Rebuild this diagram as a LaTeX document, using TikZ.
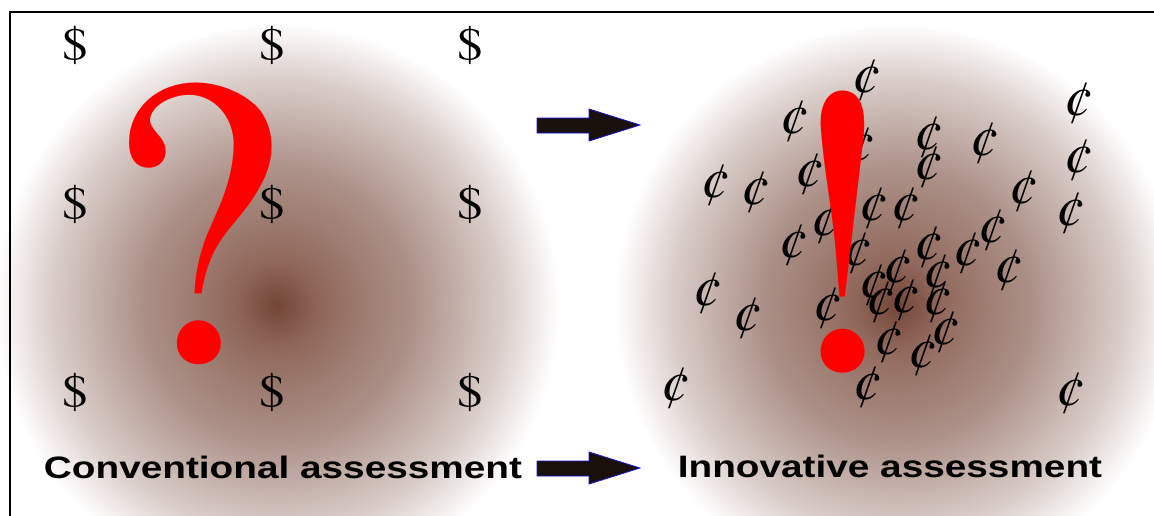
\documentclass[tikz,border=0pt]{standalone}
\usepackage{fontspec}
\newfontfamily\serifglyph{TeX Gyre Termes}
\newfontfamily\labelfont{Liberation Sans}
\definecolor{glowA}{RGB}{115,70,55}
\definecolor{glowB}{RGB}{145,105,92}
\definecolor{glowC}{RGB}{172,145,136}
\definecolor{glowD}{RGB}{218,205,201}
\definecolor{arrowfill}{RGB}{26,16,10}
\definecolor{arrowline}{RGB}{20,20,230}
\pgfdeclareradialshading{glow}{\pgfpoint{0bp}{0bp}}{color(0bp)=(glowA); color(4bp)=(glowB); color(12bp)=(glowC); color(20bp)=(glowD); color(25bp)=(white); color(50bp)=(white)}
\tikzset{
  bigmark/.style={anchor=base, inner sep=0pt, text=red, font=\serifglyph\fontsize{412}{412}\selectfont},
  dollar/.style={anchor=base, inner sep=0pt, font=\serifglyph\fontsize{47}{47}\selectfont},
  cent/.style={anchor=center, inner sep=0pt, font=\serifglyph\itshape\fontsize{58}{58}\selectfont},
  lbl/.style={anchor=base, inner sep=0pt, font=\labelfont\bfseries\fontsize{31}{31}\selectfont},
  blockarrow/.style={draw=arrowline, fill=arrowfill, line width=0.8pt, line join=miter},
  frame/.style={draw=black, line width=1.6pt}
}
\begin{document}
\begin{tikzpicture}[x=1pt,y=-1pt]
\useasboundingbox (0,0) rectangle (1154,515);
\clip (0,0) rectangle (1154,515);
\fill[white] (0,0) rectangle (1154,515);
% glows
\shade[shading=glow] (277,305) circle (282);
\shade[shading=glow] (897,305) circle (282);
% left panel
\node[bigmark] (qmark) at (193,361) {?};
\foreach \x/\cx in {1/75,2/272,3/470}{
  \foreach \y/\cy in {1/60,2/219,3/407}{
    \node[dollar] (d\x\y) at (\cx,\cy) {\scalebox{1.1}[1]{\$}};
  }
}
% right panel
\foreach \x/\y [count=\i] in {866/80,1078/103,794/121,928/137,984/143,860/148,928/167,1078/160,
  715/185,755/192,809/174,873/208,905/208,1023/191,1070/213,825/223,992/230,793/245,857/253,
  928/247,967/253,1008/270,897/270,937/275,873/285,880/302,905/300,937/302,827/308,945/332,
  888/342,922/355,867/387,707/293,747/318,675/388,1070/393}{
  \node[cent] (c\i) at (\x,\y) {¢};
}
\node[bigmark] (emark) at (836,369) {!};
% labels
\node[lbl] (conv) at (283,478) {\scalebox{1.25}[1]{Conventional assessment}};
\node[lbl] (innov) at (890,477) {\scalebox{1.25}[1]{Innovative assessment}};
% arrows
\coordinate (a1) at (537,118);
\draw[blockarrow] (a1) -- (589,118) -- (589,109) -- (640,125) -- (589,141) -- (589,133) -- (537,133) -- cycle;
\coordinate (a2) at (537,461);
\draw[blockarrow] (a2) -- (589,461) -- (589,452) -- (640,468) -- (589,484) -- (589,476) -- (537,476) -- cycle;
% frame
\draw[frame] (10,520) -- (10,12) -- (1160,12);
\end{tikzpicture}
\end{document}
